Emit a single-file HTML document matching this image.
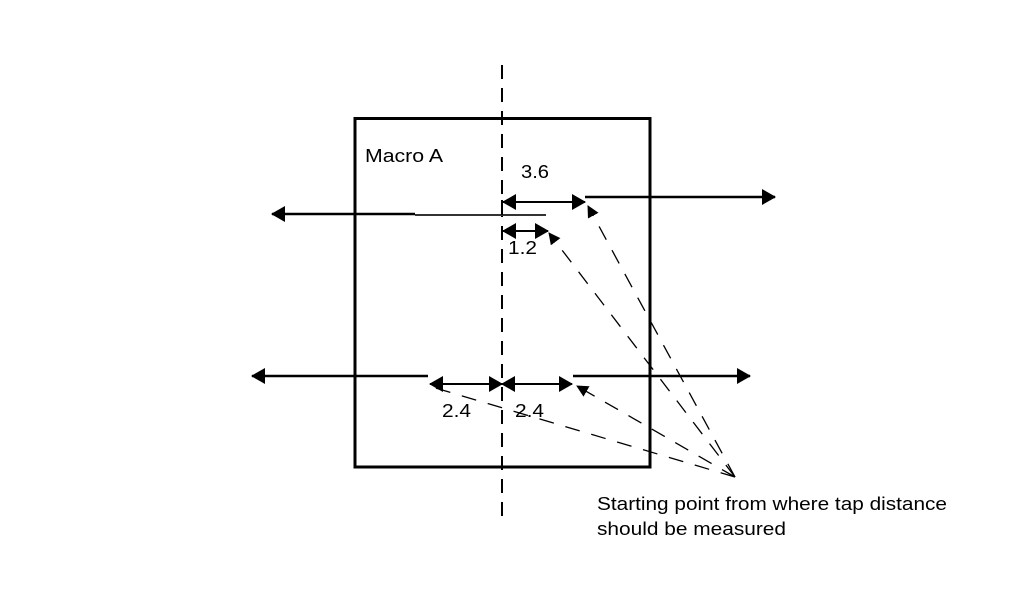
<!DOCTYPE html>
<html><head><style>body{margin:0;background:#fff}svg{display:block}</style></head>
<body>
<svg width="1013" height="600" xmlns="http://www.w3.org/2000/svg" font-family="Liberation Sans, sans-serif">
<defs>
<marker id="a" markerWidth="12" markerHeight="12" refX="11" refY="6" orient="auto" markerUnits="userSpaceOnUse" viewBox="0 0 12 12"><path d="M0,0 L12,6 L0,12z" fill="#000"/></marker>
<marker id="b" markerWidth="14" markerHeight="16" refX="13" refY="8" orient="auto" markerUnits="userSpaceOnUse" viewBox="0 0 14 16"><path d="M0,0 L14,8 L0,16z" fill="#000"/></marker>
</defs>
<rect x="355" y="118.5" width="295" height="348.5" fill="none" stroke="#000" stroke-width="3"/>
<line x1="502" y1="65" x2="502" y2="522" stroke="#000" stroke-width="2" stroke-dasharray="14,9"/>
<g font-size="18.5">
<text x="365" y="162" textLength="78" lengthAdjust="spacingAndGlyphs">Macro A</text>
<text x="521" y="178" textLength="28" lengthAdjust="spacingAndGlyphs">3.6</text>
<text x="508" y="254" textLength="29" lengthAdjust="spacingAndGlyphs">1.2</text>
<text x="442" y="417" textLength="29" lengthAdjust="spacingAndGlyphs">2.4</text>
<text x="515" y="417" textLength="29" lengthAdjust="spacingAndGlyphs">2.4</text>
<text x="597" y="510" textLength="350" lengthAdjust="spacingAndGlyphs">Starting point from where tap distance</text>
<text x="597" y="535" textLength="189" lengthAdjust="spacingAndGlyphs">should be measured</text>
</g>
<line x1="415" y1="214" x2="272" y2="214" stroke="#000" stroke-width="2.5" marker-end="url(#b)"/>
<line x1="415" y1="215" x2="546" y2="215" stroke="#333" stroke-width="2"/>
<line x1="502" y1="200" x2="502" y2="215" stroke="#000" stroke-width="2"/>
<line x1="543" y1="202" x2="503" y2="202" stroke="#000" stroke-width="2" marker-end="url(#b)"/>
<line x1="543" y1="202" x2="585" y2="202" stroke="#000" stroke-width="2" marker-end="url(#b)"/>
<line x1="585" y1="197" x2="775" y2="197" stroke="#000" stroke-width="2.5" marker-end="url(#b)"/>
<line x1="525" y1="231" x2="503" y2="231" stroke="#000" stroke-width="2" marker-end="url(#b)"/>
<line x1="525" y1="231" x2="548" y2="231" stroke="#000" stroke-width="2" marker-end="url(#b)"/>
<line x1="428" y1="376" x2="252" y2="376" stroke="#000" stroke-width="2.5" marker-end="url(#b)"/>
<line x1="573" y1="376" x2="750" y2="376" stroke="#000" stroke-width="2.5" marker-end="url(#b)"/>
<line x1="466" y1="384" x2="430" y2="384" stroke="#000" stroke-width="2" marker-end="url(#b)"/>
<line x1="466" y1="384" x2="502" y2="384" stroke="#000" stroke-width="2" marker-end="url(#b)"/>
<line x1="537" y1="384" x2="502" y2="384" stroke="#000" stroke-width="2" marker-end="url(#b)"/>
<line x1="537" y1="384" x2="572" y2="384" stroke="#000" stroke-width="2" marker-end="url(#b)"/>
<g stroke="#000" stroke-width="1.3" stroke-dasharray="15,12" fill="none">
<line x1="735" y1="477" x2="588" y2="206" marker-end="url(#a)"/>
<line x1="735" y1="477" x2="549" y2="233" marker-end="url(#a)"/>
<line x1="735" y1="477" x2="577" y2="386" marker-end="url(#a)"/>
<line x1="735" y1="477" x2="432" y2="387"/>
</g>
</svg>
</body></html>
